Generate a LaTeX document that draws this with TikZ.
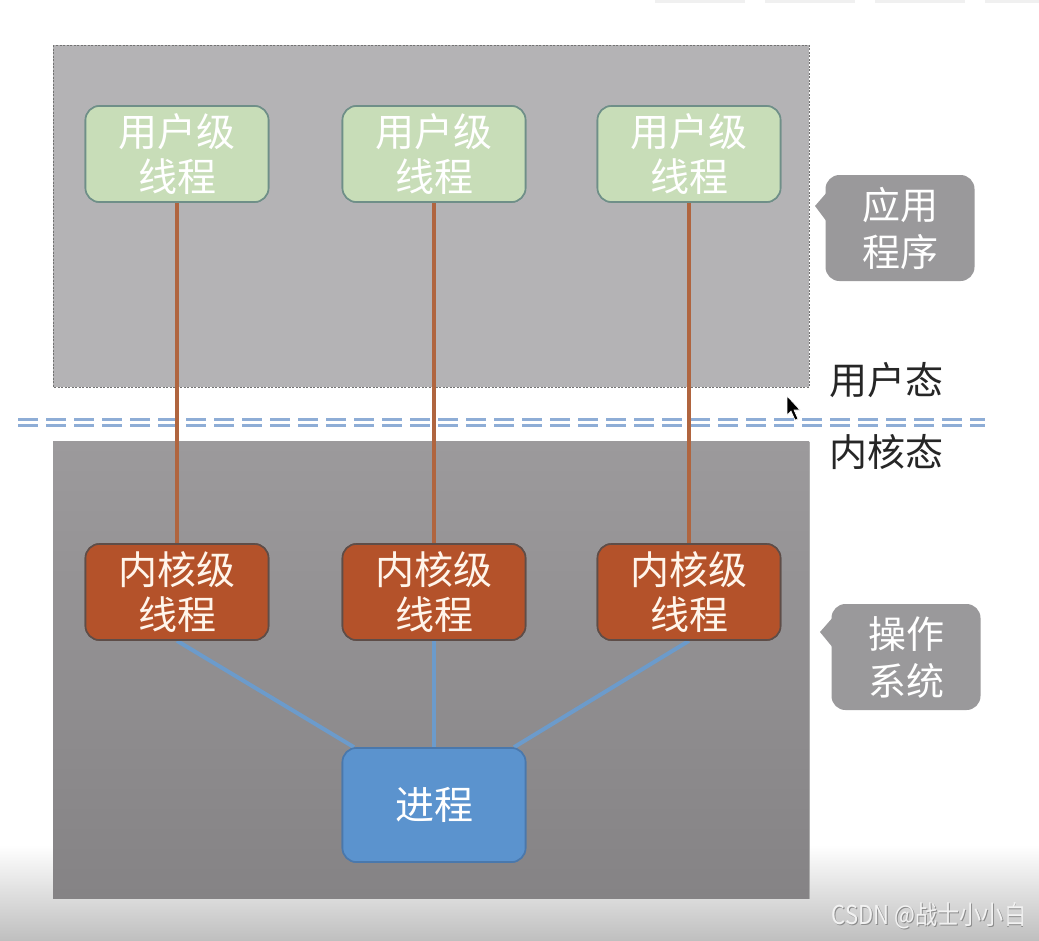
\documentclass[tikz,border=0pt]{standalone}
\usepackage{fontspec}
\setmainfont{Noto Sans CJK SC}
\definecolor{topgray}{HTML}{B4B3B5}
\definecolor{botgrayA}{HTML}{9C9A9C}
\definecolor{botgrayB}{HTML}{858385}
\definecolor{ugreen}{HTML}{C8DDB8}
\definecolor{ugreenB}{HTML}{6F8F88}
\definecolor{korange}{HTML}{B4522A}
\definecolor{korangeB}{HTML}{5E4D48}
\definecolor{pblue}{HTML}{5B93CE}
\definecolor{pblueB}{HTML}{4A78AC}
\definecolor{brownln}{HTML}{B0653F}
\definecolor{blueln}{HTML}{6C9BCB}
\definecolor{dashblue}{HTML}{8EADD6}
\definecolor{callgray}{HTML}{9A999B}
\begin{document}
\begin{tikzpicture}[x=1pt,y=-1pt,
  box/.style={rounded corners=14pt, minimum width=183pt, minimum height=96pt, line width=1.6pt, align=center, inner sep=0pt, font=\fontsize{39}{45}\selectfont},
  ubox/.style={box, fill=ugreen, draw=ugreenB, text=white},
  kbox/.style={box, fill=korange, draw=korangeB, text=white!92!orange},
  pbox/.style={box, fill=pblue, draw=pblueB, text=white, minimum height=114pt},
  uline/.style={brownln, line width=4pt},
  kline/.style={blueln, line width=4pt},
  dline/.style={dashblue, line width=3pt, dash pattern=on 20pt off 8pt},
  callout/.style={fill=callgray, rounded corners=14pt, minimum width=149pt, minimum height=106pt, align=center, inner sep=0pt, text=white, font=\fontsize{38}{47}\selectfont},
  statelbl/.style={font=\fontsize{38}{42}\selectfont, text=black!85, inner sep=0pt}
]
\useasboundingbox (0,0) rectangle (1039,940);
\fill[white] (0,0) rectangle (1039,940);
\shade[top color=white, bottom color=black!25] (0,845) rectangle (1039,940);
% top-right tiny marks
\fill[black!6] (655,0) rectangle (745,3);
\fill[black!6] (765,0) rectangle (855,3);
\fill[black!6] (875,0) rectangle (965,3);
\fill[black!6] (985,0) rectangle (1039,3);
% regions
\fill[topgray] (53,45) rectangle (809,387);
\draw[black!55, line width=0.8pt, dash pattern=on 2pt off 1.5pt] (53,45) rectangle (809,387);
\fill[black!30] (54,442) rectangle (810,899);
\shade[top color=botgrayA, bottom color=botgrayB] (53,441) rectangle (809,898);
% dashed double line
\coordinate (dl1) at (18,419);
\coordinate (dr1) at (985,419);
\coordinate (dl2) at (18,425);
\coordinate (dr2) at (985,425);
\draw[dline] (dl1) -- (dr1);
\draw[dline] (dl2) -- (dr2);
% boxes (placed first to get anchors)
\node[ubox] (u1) at (177,154) {用户级\\线程};
\node[ubox] (u2) at (434,154) {用户级\\线程};
\node[ubox] (u3) at (689,154) {用户级\\线程};
\node[kbox] (k1) at (177,592) {内核级\\线程};
\node[kbox] (k2) at (434,592) {内核级\\线程};
\node[kbox] (k3) at (689,592) {内核级\\线程};
\node[pbox] (p) at (434,805) {进程};
% connectors
\draw[uline] (u1.south) -- (k1.north);
\draw[uline] (u2.south) -- (k2.north);
\draw[uline] (u3.south) -- (k3.north);
\draw[kline] (k1.south) -- ([xshift=-80pt]p.north);
\draw[kline] (k2.south) -- (p.north);
\draw[kline] (k3.south) -- ([xshift=80pt]p.north);
% redraw boxes on top of line ends
\node[ubox] at (u1) {用户级\\线程};
\node[ubox] at (u2) {用户级\\线程};
\node[ubox] at (u3) {用户级\\线程};
\node[kbox] at (k1) {内核级\\线程};
\node[kbox] at (k2) {内核级\\线程};
\node[kbox] at (k3) {内核级\\线程};
\node[pbox] at (p) {进程};
% callouts
\node[callout] (c1) at (900,228) {应用\\程序};
\fill[callgray] ([shift={(1pt,35pt)}]c1.west) -- (815,206) -- ([shift={(1pt,7pt)}]c1.west) -- cycle;
\node[callout] (c2) at (906,657) {操作\\系统};
\fill[callgray] ([shift={(1pt,39pt)}]c2.west) -- (820,632) -- ([shift={(1pt,10pt)}]c2.west) -- cycle;
% state labels
\node[statelbl] (us) at (886,380) {用户态};
\node[statelbl] (ks) at (886,452) {内核态};
% cursor
\fill[black, draw=white, line width=0.6pt] (787,396) -- (787,415) -- (791,411) -- (795,420) -- (798,419) -- (794,410) -- (800,410) -- cycle;
% watermark
\node[text=black!45, font=\fontsize{26}{28}\selectfont, inner sep=0pt, xscale=0.85] at (929.8,916.8) {CSDN @战士小小白};
\node[text=white!95!black, font=\fontsize{26}{28}\selectfont, inner sep=0pt, xscale=0.85] (wm) at (929,916) {CSDN @战士小小白};
\end{tikzpicture}
\end{document}
